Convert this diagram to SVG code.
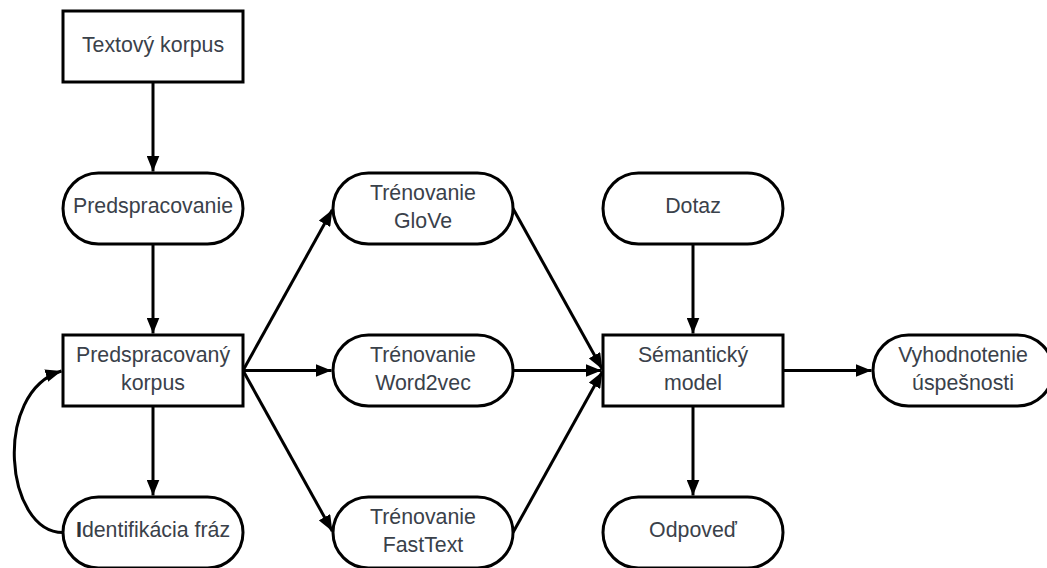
<svg xmlns="http://www.w3.org/2000/svg" width="1047" height="568" viewBox="0 0 1047 568">
  <style>
    .box { fill: #ffffff; stroke: #000000; stroke-width: 3; }
    .lbl { font-family: "Liberation Sans", Arial, sans-serif; font-size: 21.33px; fill: #3a414a; text-anchor: middle; }
    .edge { fill: none; stroke: #000000; stroke-width: 3; marker-end: url(#arrow); }
  </style>
  <defs>
    <marker id="arrow" markerUnits="userSpaceOnUse" viewBox="0 0 16 13" markerWidth="16" markerHeight="13" refX="16" refY="6.5" orient="auto">
      <path d="M0,0 L16,6.5 L0,13 z" fill="#000000"/>
    </marker>
  </defs>

  <!-- connectors -->
  <g id="connectors">
    <path class="edge" d="M153,82 L153,171.5"/>
    <path class="edge" d="M153,244 L153,333.5"/>
    <path class="edge" d="M153,406 L153,495.5"/>
    <path class="edge" d="M63,532.5 C5,532.5 -8,392 61.5,371"/>
    <path class="edge" d="M243,370.5 L332.3,209.8"/>
    <path class="edge" d="M243,370.5 L331.5,370.5"/>
    <path class="edge" d="M243,370.5 L332.3,531.2"/>
    <path class="edge" d="M513,208.5 L602.3,369.2"/>
    <path class="edge" d="M513,370.5 L601.5,370.5"/>
    <path class="edge" d="M513,532.5 L602.3,371.8"/>
    <path class="edge" d="M693,244 L693,333.5"/>
    <path class="edge" d="M693,406 L693,495.5"/>
    <path class="edge" d="M783,370.5 L871.5,370.5"/>
  </g>

  <!-- column 1 -->
  <g id="textovy-korpus">
    <rect class="box" x="63" y="11" width="180" height="71"/>
    <text class="lbl" x="153" y="52">Textový korpus</text>
  </g>
  <g id="predspracovanie">
    <rect class="box" x="63" y="173" width="180" height="71" rx="35.5"/>
    <text class="lbl" x="153" y="213">Predspracovanie</text>
  </g>
  <g id="predspracovany-korpus">
    <rect class="box" x="63" y="335" width="180" height="71"/>
    <text class="lbl" x="153" y="361.5">Predspracovaný</text>
    <text class="lbl" x="153" y="390">korpus</text>
  </g>
  <g id="identifikacia-fraz">
    <rect class="box" x="63" y="497" width="180" height="71" rx="35.5"/>
    <text class="lbl" x="153" y="536.5"><tspan font-weight="bold" fill="#2b323a">I</tspan>dentifikácia fráz</text>
  </g>

  <!-- column 2 -->
  <g id="trenovanie-glove">
    <rect class="box" x="333" y="173" width="180" height="71" rx="35.5"/>
    <text class="lbl" x="423" y="199.5">Trénovanie</text>
    <text class="lbl" x="423" y="228">GloVe</text>
  </g>
  <g id="trenovanie-word2vec">
    <rect class="box" x="333" y="335" width="180" height="71" rx="35.5"/>
    <text class="lbl" x="423" y="361.5">Trénovanie</text>
    <text class="lbl" x="423" y="390">Word2vec</text>
  </g>
  <g id="trenovanie-fasttext">
    <rect class="box" x="333" y="497" width="180" height="71" rx="35.5"/>
    <text class="lbl" x="423" y="523.5">Trénovanie</text>
    <text class="lbl" x="423" y="552">FastText</text>
  </g>

  <!-- column 3 -->
  <g id="dotaz">
    <rect class="box" x="603" y="173" width="180" height="71" rx="35.5"/>
    <text class="lbl" x="693" y="213">Dotaz</text>
  </g>
  <g id="semanticky-model">
    <rect class="box" x="603" y="335" width="180" height="71"/>
    <text class="lbl" x="693" y="361.5">Sémantický</text>
    <text class="lbl" x="693" y="390">model</text>
  </g>
  <g id="odpoved">
    <rect class="box" x="603" y="497" width="180" height="71" rx="35.5"/>
    <text class="lbl" x="693" y="536.5">Odpoveď</text>
  </g>

  <!-- column 4 -->
  <g id="vyhodnotenie-uspesnosti">
    <rect class="box" x="873" y="335" width="180" height="71" rx="35.5"/>
    <text class="lbl" x="963" y="361.5">Vyhodnotenie</text>
    <text class="lbl" x="963" y="390">úspešnosti</text>
  </g>
</svg>
